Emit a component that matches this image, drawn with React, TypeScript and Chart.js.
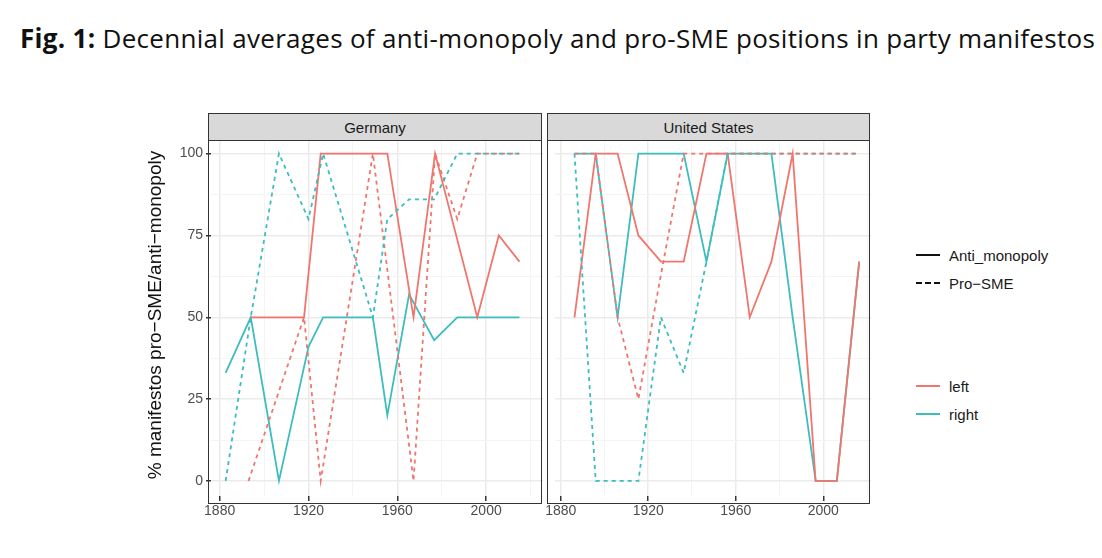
import React, { useEffect, useRef } from "react";
import { Chart, registerables } from "chart.js";
Chart.register(...registerables);

const RED = "#F0766D";
const TEAL = "#3DBDBF";

// Germany
const deLeftAntiYears = [1894, 1918, 1925.5, 1955.5, 1967.3, 1977, 1996, 2005.7, 2015];
const deLeftAnti = [50, 50, 100, 100, 50, 100, 50, 75, 67];
const deRightAntiYears = [1882.7, 1894, 1906.7, 1920, 1926.6, 1949, 1955.5, 1965.3, 1976.6, 1987, 2015];
const deRightAnti = [33, 50, 0, 41, 50, 50, 20, 57, 43, 50, 50];
const deLeftSmeYears = [1893, 1918, 1925.5, 1949, 1967.3, 1977, 1987, 1996, 2015];
const deLeftSme = [0, 50, 0, 100, 0, 100, 80, 100, 100];
const deRightSmeYears = [1882.7, 1894, 1906.7, 1920, 1926.6, 1949, 1955.5, 1965.3, 1976.6, 1987, 2015];
const deRightSme = [0, 50, 100, 80, 100, 50, 80, 86, 86, 100, 100];

// United States
const usYears = [1886.3, 1896, 1906, 1915.5, 1925.8, 1936.2, 1946.6, 1956.3, 1966.4, 1976.3, 1986, 1996.5, 2006.2, 2016.4];
const usLeftAnti = [50, 100, 100, 75, 67, 67, 100, 100, 50, 67, 100, 0, 0, 67];
const usRightAnti = [100, 100, 50, 100, 100, 100, 67, 100, 100, 100, 50, 0, 0, 67];
const usLeftSme = [100, 100, 50, 25, 63, 100, 100, 100, 100, 100, 100, 100, 100, 100];
const usRightSme = [100, 0, 0, 0, 50, 33, 67, 100, 100, 100, 100, 100, 100, 100];

const xTicks = [1880, 1900, 1920, 1940, 1960, 1980, 2000, 2020];
const yTicks = [0, 12.5, 25, 37.5, 50, 62.5, 75, 87.5, 100];

const pts = (xs: number[], ys: number[]) => xs.map((x, i) => ({ x, y: ys[i] }));

function ds(xs: number[], ys: number[], color: string, dashed: boolean) {
  return {
    data: pts(xs, ys),
    borderColor: color,
    borderWidth: 1.8,
    borderDash: dashed ? [4, 4] : [],
    pointRadius: 0,
    fill: false,
    tension: 0,
  };
}

function Panel(props: {
  left: number; width: number; xmin: number; xmax: number; showY: boolean; datasets: any[];
}) {
  const ref = useRef<HTMLCanvasElement>(null);
  useEffect(() => {
    const yW = props.showY ? 108 : 0;
    const chart = new Chart(ref.current!, {
      type: "line",
      data: { datasets: props.datasets },
      options: {
        animation: false,
        responsive: false,
        plugins: { legend: { display: false }, tooltip: { enabled: false } },
        layout: { padding: { top: 32, right: 10, left: props.showY ? 0 : 7, bottom: 0 } },
        scales: {
          x: {
            type: "linear",
            min: props.xmin,
            max: props.xmax,
            afterBuildTicks: (s: any) => { s.ticks = xTicks.map((v) => ({ value: v })); },
            afterFit: (s: any) => { s.height = 35; },
            ticks: {
              autoSkip: false,
              maxRotation: 0,
              color: "#4d4d4d",
              font: { family: "Liberation Sans, Arial", size: 14 },
              padding: 2,
              callback: (v: any) => (Number(v) % 40 === 0 ? String(v) : ""),
            },
            grid: {
              color: (c: any) => (c.tick && c.tick.value % 40 === 0 ? "#ebebeb" : "#f4f4f4"),
              lineWidth: (c: any) => (c.tick && c.tick.value % 40 === 0 ? 1.5 : 1),
              tickColor: (c: any) => (c.tick && c.tick.value % 40 === 0 ? "#333" : "rgba(0,0,0,0)"),
              tickLength: 5,
            },
            border: { display: false },
          },
          y: {
            type: "linear",
            min: -4.6,
            max: 106.3,
            afterBuildTicks: (s: any) => { s.ticks = yTicks.map((v) => ({ value: v })); },
            afterFit: (s: any) => { s.width = yW; },
            ticks: {
              display: props.showY,
              autoSkip: false,
              color: "#4d4d4d",
              font: { family: "Liberation Sans, Arial", size: 14 },
              padding: 3,
              callback: (v: any) => (Number(v) % 25 === 0 ? String(v) : ""),
            },
            grid: {
              color: (c: any) => (c.tick && c.tick.value % 25 === 0 ? "#ebebeb" : "#f4f4f4"),
              lineWidth: (c: any) => (c.tick && c.tick.value % 25 === 0 ? 1.5 : 1),
              tickColor: (c: any) => (props.showY && c.tick && c.tick.value % 25 === 0 ? "#333" : "rgba(0,0,0,0)"),
              tickLength: props.showY ? 5 : 0,
            },
            border: { display: false },
          },
        },
      },
    });
    return () => chart.destroy();
  }, []);
  const yW = props.showY ? 108 : 7;
  return (
    <canvas
      ref={ref}
      width={props.width}
      height={430}
      style={{ position: "absolute", left: props.left - yW + 3, top: 93, width: props.width, height: 430 }}
    />
  );
}

export default function App() {
  const font = "Liberation Sans, Arial, sans-serif";
  const strip = (left: number, width: number, label: string) => (
    <>
      <div style={{ position: "absolute", left, top: 105, width: width - 2, height: 26, background: "#d9d9d9", border: "1px solid #333", fontFamily: font, fontSize: 15, color: "#1a1a1a", display: "flex", alignItems: "center", justifyContent: "center" }}>{label}</div>
      <div style={{ position: "absolute", left, top: 132, width: width - 2, height: 362, border: "1px solid #333", pointerEvents: "none" }} />
    </>
  );
  const legLine = (top: number, color: string, dashed: boolean, label: string) => (
    <div style={{ position: "absolute", left: 908, top: top - 10, height: 20, display: "flex", alignItems: "center", fontFamily: font, fontSize: 15, color: "#1a1a1a" }}>
      <div style={{ width: 24, borderTop: `2px ${dashed ? "dashed" : "solid"} ${color}`, marginRight: 9 }} />
      {label}
    </div>
  );
  return (
    <div style={{ position: "relative", width: 1086, height: 542, background: "#fff", overflow: "hidden" }}>
      <div style={{ position: "absolute", left: 12, top: 12, fontFamily: "Open Sans, sans-serif", fontSize: 26, color: "#111", whiteSpace: "nowrap", letterSpacing: 0.3 }}>
        <b>Fig. 1:</b> Decennial averages of anti-monopoly and pro-SME positions in party manifestos
      </div>
      <Panel
        left={200}
        width={450}
        xmin={1876.1}
        xmax={2025.6}
        showY={true}
        datasets={[
          ds(deRightSmeYears, deRightSme, TEAL, true),
          ds(deLeftSmeYears, deLeftSme, RED, true),
          ds(deLeftAntiYears, deLeftAnti, RED, false),
          ds(deRightAntiYears, deRightAnti, TEAL, false),
        ]}
      />
      <Panel
        left={539}
        width={338}
        xmin={1877.4}
        xmax={2021.8}
        showY={false}
        datasets={[
          ds(usYears, usLeftSme, RED, true),
          ds(usYears, usRightSme, TEAL, true),
          ds(usYears, usLeftAnti, RED, false),
          ds(usYears, usRightAnti, TEAL, false),
        ]}
      />
      {strip(200, 334, "Germany")}
      {strip(539, 323, "United States")}
      <div style={{ position: "absolute", left: 147 - 200, top: 308 - 12, width: 400, textAlign: "center", transform: "rotate(-90deg)", fontFamily: font, fontSize: 19, color: "#111", whiteSpace: "nowrap" }}>
        % manifestos pro−SME/anti−monopoly
      </div>
      {legLine(247, "#111", false, "Anti_monopoly")}
      {legLine(275, "#111", true, "Pro−SME")}
      {legLine(378, RED, false, "left")}
      {legLine(406, TEAL, false, "right")}
    </div>
  );
}
